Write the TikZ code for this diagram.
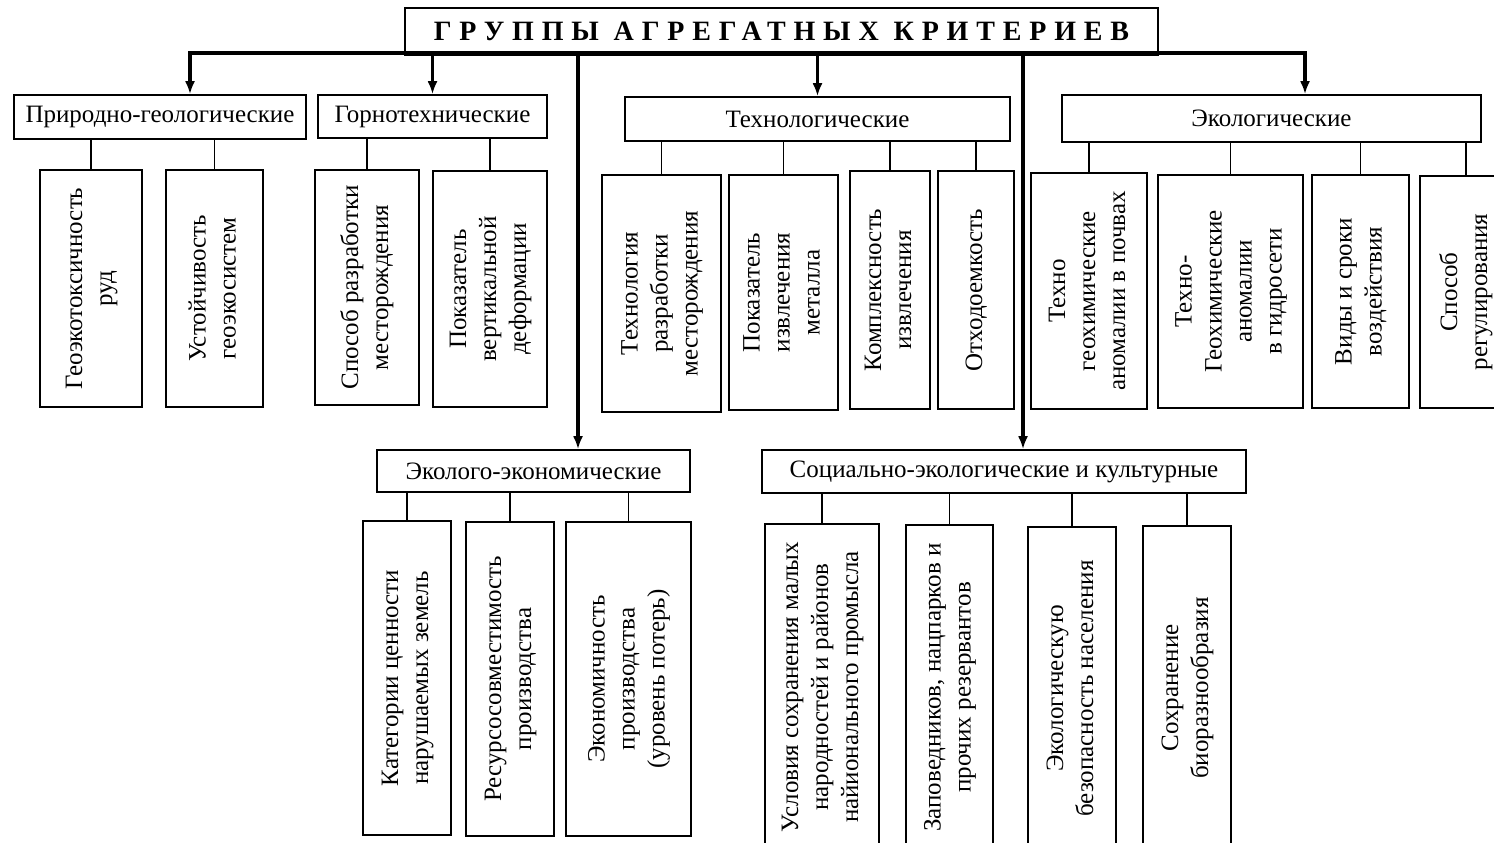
\documentclass[tikz,border=0pt]{standalone}
\usepackage{fontspec}
\usepackage{graphicx}
\setmainfont{Liberation Serif}
\newfontfamily\titlefont[LetterSpace=28]{Liberation Serif}
\usetikzlibrary{arrows.meta}

\tikzset{
  group/.style={draw, line width=0.8pt, inner sep=0pt, font=\fontsize{12.5}{15}\selectfont},
  leaf/.style={draw, line width=0.8pt, inner sep=0pt, font=\fontsize{12.5}{15}\selectfont},
  wh/.style 2 args={minimum width=#1*0.5pt, minimum height=#2*0.5pt},
  trunk/.style={line width=1.6pt},
  twig/.style={line width=0.8pt},
  tip/.style={-{Latex[length=6.5pt,width=5pt]}}
}
\newcommand{\vtext}[1]{\rotatebox{90}{\begin{tabular}{@{}c@{}}#1\end{tabular}}}

\begin{document}
\begin{tikzpicture}[x=0.5pt, y=-0.5pt]
    \useasboundingbox (0,0) rectangle (1494,842);
    \clip (0,0) rectangle (1494,842);

    % groups
    \node[group, wh={753}{47}, font=\titlefont\fontsize{14}{16}\selectfont\bfseries] (title) at (781.5,31.5) {ГРУППЫ АГРЕГАТНЫХ КРИТЕРИЕВ};
    \node[group, wh={292}{44}] (pg) at (160,117) {Природно-геологические};
    \node[group, wh={229}{43}] (gt) at (432.5,116.5) {Горнотехнические};
    \node[group, wh={385}{44}] (tech) at (817.5,119) {Технологические};
    \node[group, wh={419}{47}] (eco) at (1271.5,118.5) {Экологические};
    \node[group, wh={313}{42}] (ee) at (533.5,471) {Эколого-экономические};
    \node[group, wh={484}{43}] (soc) at (1004,471.5) {Социально-экологические и культурные};

    % upper criteria
    \node[leaf, wh={102}{237}] (geotox) at (91,288.5) {\vtext{Геоэкотоксичность\\руд}};
    \node[leaf, wh={97}{237}] (ustoj) at (214.5,288.5) {\vtext{Устойчивость\\геоэкосистем}};
    \node[leaf, wh={104}{235}] (sposob) at (367,287.5) {\vtext{Способ разработки\\месторождения}};
    \node[leaf, wh={114}{236}] (pokdef) at (490,289) {\vtext{Показатель\\вертикальной\\деформации}};
    \node[leaf, wh={119}{237}] (techraz) at (661.5,293.5) {\vtext{Технология\\разработки\\месторождения}};
    \node[leaf, wh={109}{235}] (pokmet) at (783.5,292.5) {\vtext{Показатель\\извлечения\\металла}};
    \node[leaf, wh={80}{238}] (kompl) at (890,290) {\vtext{Комплексность\\извлечения}};
    \node[leaf, wh={76}{238}] (otxod) at (976,290) {\vtext{Отходоемкость}};
    \node[leaf, wh={116}{236}] (pochv) at (1089,291) {\vtext{Техно\\геохимические\\аномалии в почвах}};
    \node[leaf, wh={145}{233}] (gidro) at (1230.5,291.5) {\vtext{Техно-\\Геохимические\\аномалии\\в гидросети}};
    \node[leaf, wh={97}{233}] (vidy) at (1360.5,291.5) {\vtext{Виды и сроки\\воздействия}};
    \node[leaf, wh={92}{232}] (regul) at (1466,292) {\vtext{Способ\\регулирования}};

    % lower criteria
    \node[leaf, wh={88}{314}] (kateg) at (407,678) {\vtext{Категории ценности\\нарушаемых земель}};
    \node[leaf, wh={88}{314}] (resurs) at (510,679) {\vtext{Ресурсосовместимость\\производства}};
    \node[leaf, wh={125}{314}] (ekonom) at (628.5,679) {\vtext{Экономичность\\производства\\(уровень потерь)}};
    \node[leaf, wh={114}{326}] (uslov) at (822,687) {\vtext{Условия сохранения малых\\народностей и районов\\найионального промысла}};
    \node[leaf, wh={87}{325}] (zapov) at (949.5,687.5) {\vtext{Заповедников, нацпарков и\\прочих резервантов}};
    \node[leaf, wh={88}{323}] (bezop) at (1072,688.5) {\vtext{Экологическую\\безопасность населения}};
    \node[leaf, wh={88}{324}] (bioraz) at (1187,688) {\vtext{Сохранение\\биоразнообразия}};

    % main lines
    \coordinate (tL) at (190,53);
    \coordinate (tR) at (1305,53);
    \coordinate (tE) at (578,53);
    \coordinate (tS) at (1023,53);
    \draw[trunk, {Latex[length=6.5pt,width=5pt]}-{Latex[length=6.5pt,width=5pt]}] (tL |- pg.north) -- (tL) -- (tR) -- (tR |- eco.north);
    \draw[trunk, tip] (gt.north |- tL) -- (gt.north);
    \draw[trunk, tip] (tech.north |- tL) -- (tech.north);
    \draw[trunk, tip] (tE) -- (tE |- ee.north);
    \draw[trunk, tip] (tS) -- (tS |- soc.north);

    % branches
    \foreach \mom/\kid in {pg/geotox, pg/ustoj, gt/sposob, gt/pokdef,
        tech/techraz, tech/pokmet, tech/kompl, tech/otxod,
        eco/pochv, eco/gidro, eco/vidy, eco/regul,
        ee/kateg, ee/resurs, ee/ekonom,
        soc/uslov, soc/zapov, soc/bezop, soc/bioraz}
        \draw[twig] (\mom.south -| \kid.north) -- (\kid.north);

\end{tikzpicture}
\end{document}
